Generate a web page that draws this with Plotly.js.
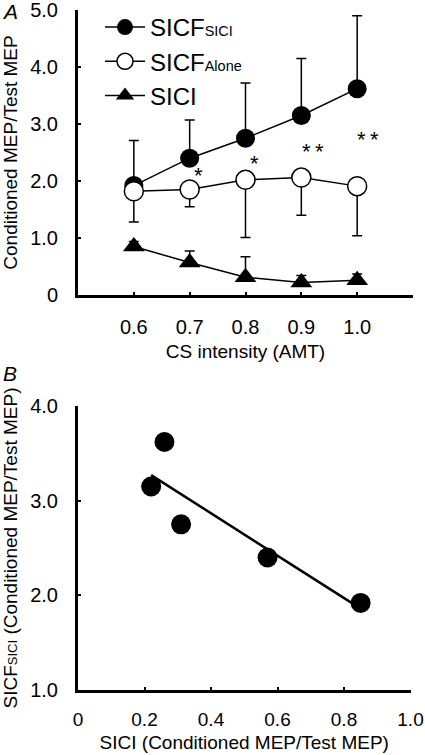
<!DOCTYPE html>
<html><head><meta charset="utf-8">
<script src="https://cdn.plot.ly/plotly-3.0.1.min.js"></script>
<style>html,body{margin:0;padding:0;background:#fff}#chart{width:425px;height:755px}</style>
</head><body><div id="chart"></div>
<script>
// Panel A data
const csIntensity = [0.6, 0.7, 0.8, 0.9, 1.0];
const sicfSici = [1.92, 2.40, 2.75, 3.15, 3.62];
const sicfSiciErrUp = [0.79, 0.67, 0.97, 1.00, 1.28];
const sicfAlone = [1.82, 1.85, 2.02, 2.06, 1.91];
const sicfAloneErrDown = [0.54, 0.30, 1.01, 0.66, 0.87];
const sici = [0.85, 0.57, 0.31, 0.22, 0.26];
const siciErrUp = [0.09, 0.20, 0.36, 0.12, 0.11];
const noErr = [0, 0, 0, 0, 0];
const starX = [0.716, 0.816, 0.92, 1.02];
const starY = [2.10, 2.31, 2.52, 2.73];
const starText = ['*', '*', '*\u2009*', '*\u2009*'];
const xTickValsA = [0.6, 0.7, 0.8, 0.9, 1.0];
const xTickTextA = ['0.6', '0.7', '0.8', '0.9', '1.0'];
const yTickValsA = [0, 1, 2, 3, 4, 5];
const yTickTextA = ['0', '1.0', '2.0', '3.0', '4.0', '5.0'];
// Panel B data
const fitX = [0.22, 0.85];
const fitY = [3.27, 1.86];
const xTickValsB = [0, 0.2, 0.4, 0.6, 0.8, 1.0];
const xTickTextB = ['0', '0.2', '0.4', '0.6', '0.8', '1.0'];
const yTickValsB = [1, 2, 3, 4];
const yTickTextB = ['1.0', '2.0', '3.0', '4.0'];

const black = '#000';
const sub = (t, px) => '<span style="font-size:' + px + 'px">' + t + '</span>';

const traces = [
  {x: csIntensity, y: sicfSici, name: 'SICF' + sub('SICI', 14.5), type: 'scatter', mode: 'lines+markers',
   xaxis: 'x', yaxis: 'y',
   line: {color: black, width: 1.5},
   marker: {symbol: 'circle', size: 19, color: black},
   error_y: {type: 'data', symmetric: false, array: sicfSiciErrUp, arrayminus: noErr, color: black, thickness: 1.5, width: 5}},
  {x: csIntensity, y: sicfAlone, name: 'SICF' + sub('Alone', 14.5), type: 'scatter', mode: 'lines+markers',
   xaxis: 'x', yaxis: 'y',
   line: {color: black, width: 1.5},
   marker: {symbol: 'circle', size: 19, color: '#fff', line: {color: black, width: 1.5}},
   error_y: {type: 'data', symmetric: false, array: noErr, arrayminus: sicfAloneErrDown, color: black, thickness: 1.5, width: 5}},
  {x: csIntensity, y: sici, name: 'SICI', type: 'scatter', mode: 'lines+markers',
   xaxis: 'x', yaxis: 'y',
   line: {color: black, width: 1.5},
   marker: {symbol: 'triangle-up', size: 19, color: black},
   error_y: {type: 'data', symmetric: false, array: siciErrUp, arrayminus: noErr, color: black, thickness: 1.5, width: 5}},
  {x: fitX, y: fitY, type: 'scatter', mode: 'lines', showlegend: false,
   xaxis: 'x2', yaxis: 'y2', line: {color: black, width: 2.5}},
  {x: sici, y: sicfSici, type: 'scatter', mode: 'markers', showlegend: false,
   xaxis: 'x2', yaxis: 'y2', marker: {symbol: 'circle', size: 20, color: black}}
];

const axisCommon = {
  showline: true, linewidth: 3, linecolor: black, showgrid: false, zeroline: false,
  ticks: 'inside', ticklen: 3, tickwidth: 2, tickcolor: black,
  tickfont: {size: 20, color: black}, ticklabeloverflow: 'allow', fixedrange: true
};

const annotations = starX.map((sx, i) => ({
  x: sx, y: starY[i], xref: 'x', yref: 'y', text: starText[i], showarrow: false,
  font: {size: 22, color: black}, xanchor: 'center', yanchor: 'middle'
}));
annotations.push({x: 9.5 / 425, y: 1 - 11 / 755, xref: 'paper', yref: 'paper', text: '<i>A</i>',
  showarrow: false, font: {size: 21, color: black}, xanchor: 'center', yanchor: 'middle'});
annotations.push({x: 10 / 425, y: 1 - 373.5 / 755, xref: 'paper', yref: 'paper', text: '<i>B</i>',
  showarrow: false, font: {size: 21, color: black}, xanchor: 'center', yanchor: 'middle'});

const layout = {
  width: 425, height: 755,
  margin: {l: 0, r: 0, t: 0, b: 0},
  paper_bgcolor: '#fff', plot_bgcolor: 'rgba(0,0,0,0)',
  font: {family: 'Liberation Sans, Arial, sans-serif', color: black, size: 18},
  showlegend: true,
  legend: {x: 100 / 425, y: 1 - 5 / 755, xanchor: 'left', yanchor: 'top',
    bgcolor: 'rgba(0,0,0,0)', font: {size: 24, color: black}, itemwidth: 40},
  xaxis: Object.assign({}, axisCommon, {
    domain: [78 / 425, 413 / 425], anchor: 'y', range: [0.5, 1.1],
    tickvals: xTickValsA, ticktext: xTickTextA, ticklabelstandoff: 12,
    title: {text: 'CS intensity (AMT)', font: {size: 19, color: black}, standoff: 8}}),
  yaxis: Object.assign({}, axisCommon, {
    domain: [1 - 295 / 755, 1 - 10 / 755], anchor: 'x', range: [0, 5],
    tickvals: yTickValsA, ticktext: yTickTextA, ticklabelstandoff: 13,
    title: {text: 'Conditioned MEP/Test MEP', font: {size: 19, color: black}, standoff: 8}}),
  xaxis2: Object.assign({}, axisCommon, {
    domain: [78 / 425, 410.5 / 425], anchor: 'y2', range: [0, 1.0],
    tickvals: xTickValsB, ticktext: xTickTextB, ticklabelstandoff: 10,
    tickfont: {size: 19, color: black},
    title: {text: 'SICI (Conditioned MEP/Test MEP)', font: {size: 19, color: black}, standoff: 7}}),
  yaxis2: Object.assign({}, axisCommon, {
    domain: [1 - 690 / 755, 1 - 406 / 755], anchor: 'x2', range: [1, 4],
    tickvals: yTickValsB, ticktext: yTickTextB, ticklabelstandoff: 13,
    title: {text: 'SICF' + sub('SICI', 13) + ' (Conditioned MEP/Test MEP)', font: {size: 19, color: black}, standoff: 8}}),
  annotations: annotations
};

Plotly.newPlot('chart', traces, layout, {displayModeBar: false, staticPlot: true});
</script>
</body></html>
